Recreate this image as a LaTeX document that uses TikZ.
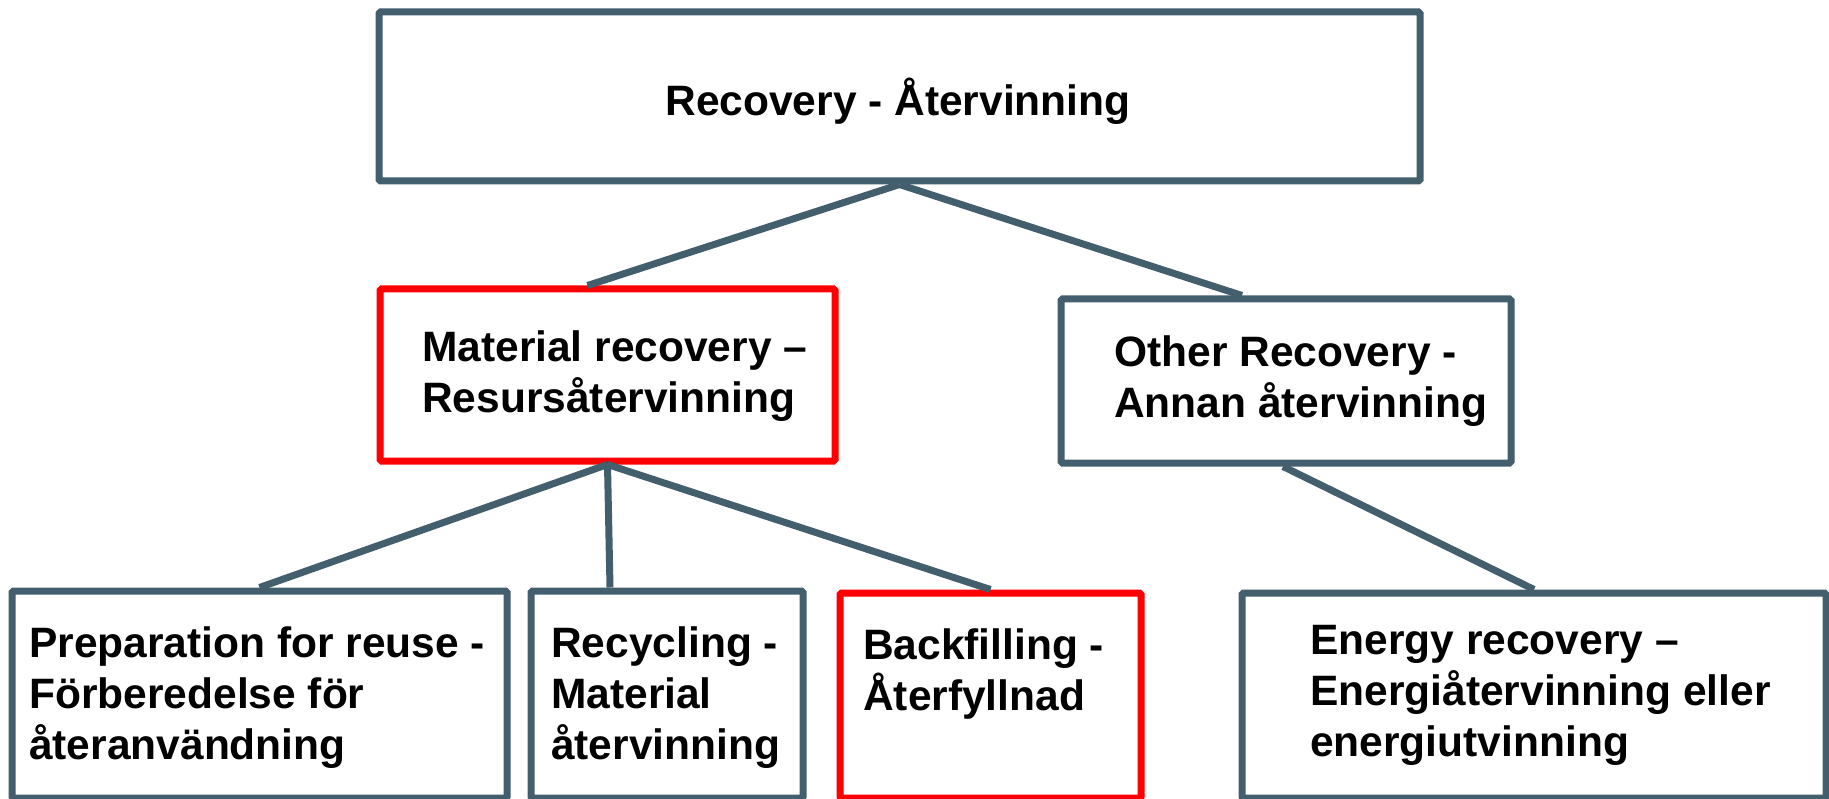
\documentclass[tikz,border=0pt]{standalone}
\usepackage{fontspec}
\setmainfont{Liberation Sans}
\definecolor{slate}{RGB}{67,94,109}
\definecolor{redline}{RGB}{255,0,0}
\begin{document}
\begin{tikzpicture}[x=1pt,y=-1pt,
  box/.style={draw=slate,line width=7pt,fill=white,rounded corners=1.5pt,inner sep=0pt},
  redbox/.style={box,draw=redline},
  txt/.style={font=\fontsize{42.5}{51}\selectfont\bfseries,align=left,inner sep=0pt,anchor=west},
  conn/.style={draw=slate,line width=7pt}]
\useasboundingbox (0,0) rectangle (1829,799);
\node[box,minimum width=1041pt,minimum height=169pt] (top) at (899.5,96.5) {};
\node[redbox,minimum width=455pt,minimum height=172pt] (mat) at (607.5,375) {};
\node[box,minimum width=450pt,minimum height=164pt] (oth) at (1286,381) {};
\node[box,minimum width=495pt,minimum height=207pt] (prep) at (259.5,694.5) {};
\node[box,minimum width=272pt,minimum height=207pt] (rec) at (667,694.5) {};
\node[redbox,minimum width=301pt,minimum height=205pt] (back) at (990.5,695.5) {};
\node[box,minimum width=584pt,minimum height=205pt] (ene) at (1534,695.5) {};

\draw[conn] (top.south) -- ([xshift=-20pt]mat.north);
\draw[conn] (top.south) -- ([xshift=-44pt]oth.north);
\draw[conn] (mat.south) -- (prep.north);
\draw[conn] (mat.south) -- ([xshift=-57pt]rec.north);
\draw[conn] (mat.south) -- (back.north);
\draw[conn] ([xshift=-3pt]oth.south) -- (ene.north);

\node[txt,anchor=center] (ttop) at (898,101) {Recovery - Återvinning};
\node[txt] (tmat) at (422,376) {Material recovery –\\Resursåtervinning};
\node[txt] (toth) at (1114,381) {Other Recovery -\\Annan återvinning};
\node[txt] (tprep) at (29,698) {Preparation for reuse -\\Förberedelse för\\återanvändning};
\node[txt] (trec) at (551,698) {Recycling -\\Material\\återvinning};
\node[txt] (tback) at (863,674) {Backfilling -\\Återfyllnad};
\node[txt] (tene) at (1310,695) {Energy recovery –\\Energiåtervinning eller\\energiutvinning};
\end{tikzpicture}
\end{document}
